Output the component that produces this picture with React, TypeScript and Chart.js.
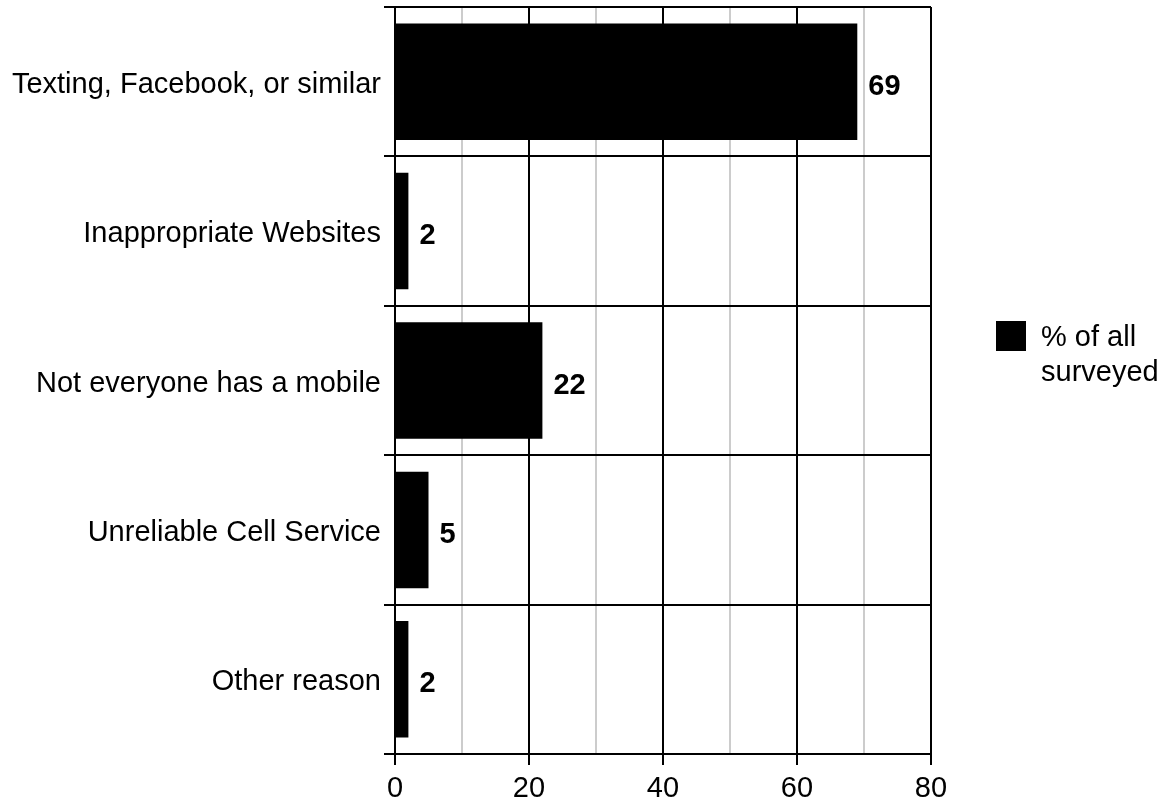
import React, { useEffect, useRef } from "react";
import { Chart, registerables } from "chart.js";

Chart.register(...registerables);

const categories = [
  "Texting, Facebook, or similar",
  "Inappropriate Websites",
  "Not everyone has a mobile",
  "Unreliable Cell Service",
  "Other reason",
];
const seriesName = ["% of all", "surveyed"];
const values = [69, 2, 22, 5, 2];
const xMin = 0;
const xMax = 80;
const xStep = 10;
const xLabelStep = 20;

const FONT = "'Liberation Sans', Arial, Helvetica, sans-serif";
const FS = 29;

const dataLabelPlugin = {
  id: "dataLabels",
  afterDatasetsDraw(chart: any) {
    const ctx = chart.ctx;
    const meta = chart.getDatasetMeta(0);
    ctx.save();
    ctx.font = `bold ${FS}px ${FONT}`;
    ctx.fillStyle = "#000";
    ctx.textAlign = "left";
    ctx.textBaseline = "middle";
    meta.data.forEach((bar: any, i: number) => {
      ctx.fillText(String(values[i]), bar.x + 11, bar.y + 5);
    });
    ctx.restore();
  },
};

const legendPlugin = {
  id: "customLegend",
  afterDraw(chart: any) {
    const ctx = chart.ctx;
    const area = chart.chartArea;
    const boxX = area.right + 65;
    const boxY = area.top + 314;
    ctx.save();
    ctx.fillStyle = "#000";
    ctx.fillRect(boxX, boxY, 30, 30);
    ctx.font = `${FS}px ${FONT}`;
    ctx.textAlign = "left";
    ctx.textBaseline = "alphabetic";
    seriesName.forEach((line, i) => {
      ctx.fillText(line, boxX + 45, boxY + 25 + i * 34.5);
    });
    ctx.restore();
  },
};

export default function App() {
  const canvasRef = useRef<HTMLCanvasElement | null>(null);

  useEffect(() => {
    document.body.style.margin = "0";
    const canvas = canvasRef.current;
    if (!canvas) return;
    const chart = new Chart(canvas, {
      type: "bar",
      data: {
        labels: categories,
        datasets: [
          {
            label: seriesName.join(" "),
            data: values,
            backgroundColor: "#000",
            borderWidth: 0,
            barPercentage: 0.78,
            categoryPercentage: 1,
          },
        ],
      },
      options: {
        indexAxis: "y",
        responsive: false,
        animation: false,
        devicePixelRatio: 1,
        layout: { padding: { top: 7, right: 230, left: 0, bottom: 0 } },
        plugins: {
          legend: { display: false },
          tooltip: { enabled: false },
        },
        scales: {
          x: {
            type: "linear",
            min: xMin,
            max: xMax,
            afterFit(scale: any) {
              scale.height = 46;
            },
            ticks: {
              stepSize: xStep,
              autoSkip: false,
              maxRotation: 0,
              padding: 7,
              color: "#000",
              font: { family: FONT, size: FS },
              callback: (v: any) => (Number(v) % xLabelStep === 0 ? String(v) : ""),
            },
            grid: {
              color: (c: any) => (c.tick && c.tick.value % xLabelStep === 0 ? "#000" : "#cccccc"),
              tickColor: (c: any) => (c.tick && c.tick.value % xLabelStep === 0 ? "#000" : "rgba(0,0,0,0)"),
              lineWidth: 2,
              tickLength: 11,
              drawTicks: true,
            },
            border: { display: true, color: "#000", width: 2 },
          },
          y: {
            type: "category",
            afterFit(scale: any) {
              scale.width = 395;
              scale.paddingTop = 0;
              scale.paddingBottom = 0;
            },
            ticks: {
              padding: 3,
              labelOffset: 3,
              color: "#000",
              font: { family: FONT, size: FS },
            },
            grid: {
              offset: true,
              color: "#000",
              lineWidth: 2,
              tickLength: 11,
              drawTicks: true,
            },
            border: { display: true, color: "#000", width: 2 },
          },
        },
      },
      plugins: [dataLabelPlugin, legendPlugin],
    });
    return () => chart.destroy();
  }, []);

  return (
    <div style={{ position: "absolute", left: 0, top: 0, width: 1161, height: 800 }}>
      <canvas ref={canvasRef} width={1161} height={800} style={{ display: "block" }} />
    </div>
  );
}
